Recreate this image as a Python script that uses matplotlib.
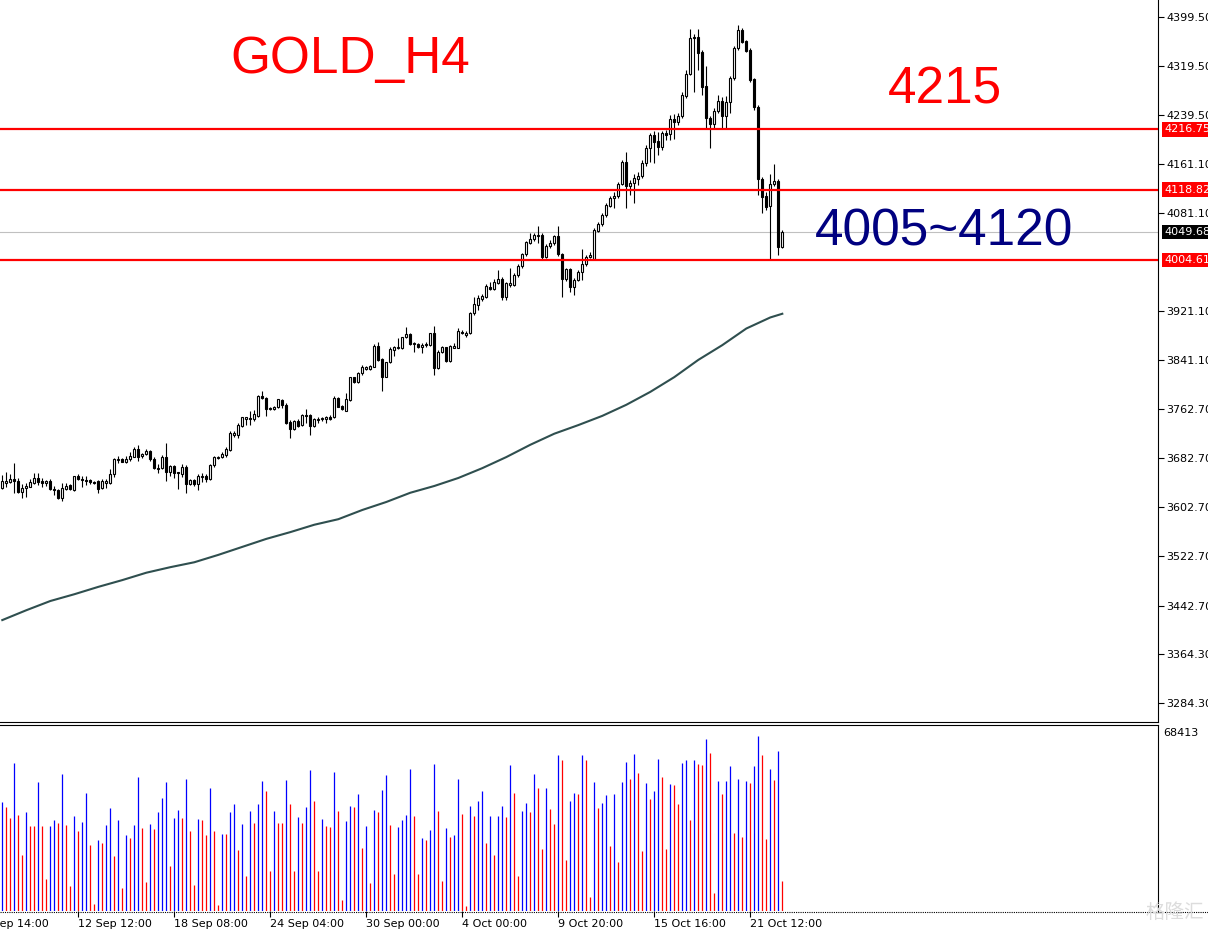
import matplotlib
matplotlib.use("Agg")
import matplotlib.pyplot as plt
import matplotlib.transforms as mtransforms
from matplotlib.patches import Rectangle
from matplotlib.lines import Line2D

# GOLD H4 candles (oldest -> newest)
opens = [
    3634.3, 3642.4, 3643.0, 3648.4, 3645.1, 3627.7, 3633.3, 3635.9, 3642.4, 3650.0,
    3645.6, 3641.4, 3645.6, 3632.6, 3631.0, 3617.0, 3632.1, 3638.1, 3630.5, 3653.8,
    3648.9, 3647.3, 3646.3, 3644.0, 3645.1, 3633.3, 3642.4, 3641.4, 3656.5, 3679.8,
    3680.4, 3675.5, 3680.4, 3684.7, 3697.2, 3685.3, 3688.6, 3694.4, 3680.9, 3666.8,
    3665.8, 3684.1, 3660.2, 3669.5, 3659.3, 3657.0, 3667.9, 3640.8, 3646.8, 3639.8,
    3652.1, 3653.3, 3647.9, 3670.6, 3682.6, 3684.1, 3687.9, 3696.3, 3719.9, 3719.9,
    3734.5, 3746.0, 3748.1, 3745.4, 3750.8, 3783.3, 3779.6, 3763.8, 3762.7, 3765.0,
    3776.8, 3768.7, 3741.6, 3729.2, 3742.7, 3736.2, 3752.4, 3752.4, 3735.0, 3744.3,
    3745.4, 3745.9, 3749.7, 3748.7, 3779.6, 3767.6, 3759.4, 3776.8, 3813.7, 3805.6,
    3820.2, 3827.7, 3827.2, 3830.9, 3864.6, 3843.5, 3814.7, 3838.1, 3858.1, 3860.9,
    3860.9, 3878.7, 3883.6, 3867.4, 3867.9, 3862.5, 3866.2, 3866.2, 3885.2, 3828.4,
    3854.4, 3862.5, 3840.7, 3861.9, 3861.9, 3887.9, 3882.5, 3886.2, 3917.8, 3931.3,
    3940.5, 3943.8, 3961.0, 3957.8, 3967.5, 3973.0, 3944.7, 3964.3, 3964.3, 3979.5,
    3994.7, 4014.2, 4032.6, 4038.6, 4043.9, 4045.6, 4009.8, 4027.2, 4031.6, 4043.4,
    4013.7, 3973.0, 3989.3, 3961.0, 3971.9, 3985.4, 3997.9, 4009.8, 4005.5, 4052.1,
    4062.4, 4077.6, 4092.7, 4104.7, 4108.5, 4127.9, 4163.3, 4125.2, 4129.1, 4136.5,
    4141.0, 4161.6, 4186.0, 4207.6, 4197.9, 4188.6, 4210.4, 4208.8, 4233.6, 4229.3,
    4239.0, 4271.5, 4306.3, 4366.5, 4366.5, 4342.1, 4287.3, 4235.8, 4225.0, 4246.7,
    4262.9, 4239.0, 4260.8, 4299.8, 4348.6, 4378.3, 4360.4, 4345.8, 4298.2, 4252.7,
    4136.1, 4108.5, 4092.7, 4127.5, 4132.8, 4026.0,
]
highs = [
    3654.9, 3659.3, 3656.0, 3673.9, 3649.5, 3639.8, 3641.4, 3648.4, 3657.6, 3658.1,
    3649.5, 3646.8, 3647.9, 3637.0, 3632.6, 3642.4, 3641.4, 3640.3, 3653.8, 3656.5,
    3653.8, 3653.8, 3648.9, 3645.1, 3646.8, 3648.4, 3648.9, 3664.6, 3683.0, 3686.3,
    3683.0, 3685.8, 3692.8, 3701.0, 3703.7, 3691.2, 3696.7, 3695.5, 3683.6, 3672.3,
    3687.4, 3707.4, 3671.1, 3670.6, 3659.8, 3672.8, 3671.1, 3648.4, 3648.4, 3656.0,
    3657.6, 3656.0, 3672.3, 3685.3, 3685.8, 3692.8, 3701.0, 3726.9, 3726.9, 3738.9,
    3749.7, 3749.7, 3758.9, 3760.6, 3785.0, 3791.4, 3781.2, 3765.9, 3767.1, 3779.0,
    3779.0, 3771.4, 3744.3, 3744.3, 3745.4, 3753.6, 3761.7, 3753.6, 3747.1, 3748.7,
    3748.7, 3750.8, 3752.4, 3783.3, 3782.2, 3768.7, 3787.7, 3814.7, 3814.7, 3822.8,
    3833.7, 3832.1, 3833.7, 3867.9, 3871.6, 3844.6, 3839.1, 3862.5, 3864.6, 3877.1,
    3879.7, 3896.0, 3885.2, 3871.6, 3870.0, 3869.0, 3871.6, 3886.2, 3897.1, 3858.1,
    3864.6, 3863.5, 3866.2, 3869.0, 3893.4, 3890.6, 3889.0, 3919.9, 3943.8, 3947.5,
    3949.1, 3965.4, 3968.6, 3973.5, 3988.2, 3976.8, 3968.6, 3990.9, 3983.3, 3997.9,
    4015.8, 4035.3, 4048.8, 4048.3, 4059.7, 4048.3, 4030.5, 4036.9, 4045.1, 4059.7,
    4016.4, 3991.4, 3991.4, 3975.1, 3988.7, 4021.8, 4012.6, 4017.4, 4056.4, 4066.2,
    4080.8, 4097.1, 4108.5, 4115.5, 4131.7, 4166.9, 4179.5, 4134.5, 4144.2, 4147.5,
    4167.0, 4191.4, 4210.9, 4214.6, 4213.0, 4214.1, 4215.7, 4240.1, 4241.3, 4243.4,
    4277.5, 4313.3, 4379.4, 4371.8, 4379.5, 4345.8, 4319.8, 4238.5, 4251.5, 4272.7,
    4269.4, 4271.0, 4303.0, 4352.3, 4386.5, 4381.6, 4362.1, 4349.1, 4300.3, 4256.4,
    4139.4, 4115.0, 4144.2, 4160.5, 4135.6, 4053.0,
]
lows = [
    3632.1, 3635.9, 3641.4, 3626.1, 3626.1, 3618.0, 3619.6, 3634.9, 3640.3, 3638.6,
    3634.9, 3637.0, 3630.5, 3621.9, 3615.4, 3612.6, 3630.5, 3630.5, 3629.4, 3646.8,
    3635.9, 3638.6, 3640.3, 3640.8, 3626.1, 3631.6, 3633.3, 3640.3, 3652.1, 3673.9,
    3675.5, 3673.9, 3678.1, 3683.6, 3677.6, 3683.0, 3687.4, 3677.6, 3664.1, 3658.6,
    3664.1, 3645.6, 3653.3, 3649.5, 3632.6, 3652.1, 3626.1, 3639.1, 3637.5, 3630.5,
    3644.0, 3643.0, 3646.8, 3667.9, 3680.9, 3682.0, 3684.7, 3694.6, 3717.1, 3715.5,
    3733.4, 3736.2, 3736.2, 3742.7, 3749.7, 3778.0, 3750.8, 3760.6, 3760.6, 3763.3,
    3763.3, 3737.8, 3715.5, 3728.1, 3732.5, 3734.5, 3738.9, 3719.9, 3733.4, 3738.9,
    3742.7, 3738.9, 3744.3, 3747.1, 3765.0, 3760.6, 3758.4, 3775.7, 3804.0, 3804.0,
    3817.4, 3825.6, 3825.6, 3830.0, 3840.7, 3791.9, 3813.7, 3836.5, 3848.8, 3859.2,
    3859.2, 3877.1, 3866.2, 3855.3, 3860.9, 3852.8, 3863.4, 3864.6, 3817.4, 3826.7,
    3852.8, 3839.1, 3839.1, 3860.9, 3860.9, 3884.1, 3879.2, 3884.1, 3915.0, 3923.1,
    3937.8, 3942.6, 3955.7, 3955.7, 3965.4, 3939.4, 3939.4, 3961.0, 3962.1, 3976.8,
    3991.4, 4010.9, 4031.0, 4035.3, 4031.6, 4006.0, 4007.6, 4023.9, 4028.8, 4010.9,
    3943.8, 3970.3, 3952.4, 3947.5, 3970.3, 3971.9, 3994.7, 4007.7, 4004.4, 4049.9,
    4059.7, 4074.3, 4090.6, 4088.5, 4104.7, 4126.3, 4089.4, 4110.1, 4096.6, 4126.3,
    4137.7, 4157.2, 4163.8, 4162.6, 4175.1, 4183.2, 4199.5, 4199.5, 4201.1, 4223.9,
    4235.3, 4267.8, 4304.5, 4278.0, 4313.3, 4272.7, 4218.5, 4186.0, 4219.0, 4243.4,
    4219.0, 4219.0, 4243.9, 4297.0, 4345.8, 4357.0, 4342.6, 4293.8, 4248.3, 4110.1,
    4081.3, 4085.7, 4004.4, 4124.8, 4012.6, 4024.0,
]
closes = [
    3645.1, 3645.1, 3648.4, 3645.1, 3627.7, 3634.3, 3637.5, 3643.0, 3650.0, 3643.5,
    3641.4, 3644.6, 3631.6, 3630.0, 3617.0, 3633.3, 3637.0, 3632.6, 3652.8, 3648.4,
    3646.3, 3644.6, 3643.5, 3641.9, 3632.6, 3645.6, 3644.6, 3656.5, 3680.9, 3681.5,
    3676.2, 3680.9, 3685.8, 3697.2, 3684.7, 3689.5, 3693.9, 3680.4, 3665.8, 3665.2,
    3684.1, 3660.2, 3669.5, 3657.6, 3657.6, 3667.4, 3640.8, 3646.8, 3639.8, 3653.3,
    3653.8, 3647.9, 3670.6, 3684.1, 3684.7, 3689.0, 3697.2, 3723.2, 3723.7, 3736.2,
    3748.7, 3748.7, 3745.4, 3753.6, 3783.3, 3779.6, 3762.2, 3762.2, 3765.0, 3778.0,
    3768.7, 3738.9, 3729.2, 3742.7, 3734.5, 3752.4, 3750.8, 3735.0, 3745.9, 3745.9,
    3747.1, 3748.7, 3746.5, 3780.6, 3765.9, 3761.7, 3779.0, 3813.7, 3805.6, 3820.2,
    3830.0, 3830.0, 3832.1, 3864.6, 3841.8, 3814.7, 3838.1, 3859.2, 3862.5, 3862.5,
    3878.7, 3883.6, 3867.4, 3869.0, 3862.5, 3866.2, 3867.9, 3885.2, 3828.4, 3854.4,
    3862.5, 3840.7, 3864.6, 3864.6, 3889.5, 3885.2, 3886.2, 3917.8, 3932.4, 3942.1,
    3945.9, 3962.1, 3957.8, 3969.1, 3973.0, 3944.7, 3966.5, 3966.5, 3979.5, 3994.7,
    4014.2, 4033.2, 4038.1, 4045.1, 4045.6, 4009.8, 4027.2, 4032.6, 4043.4, 4013.7,
    3973.0, 3989.3, 3961.0, 3971.9, 3985.4, 3997.9, 4009.8, 4013.1, 4053.2, 4062.9,
    4077.6, 4093.8, 4104.7, 4108.5, 4127.9, 4163.3, 4125.2, 4129.1, 4137.2, 4141.0,
    4161.6, 4187.0, 4207.6, 4196.7, 4188.6, 4210.4, 4207.6, 4233.6, 4229.3, 4239.0,
    4272.7, 4306.3, 4364.8, 4364.8, 4340.5, 4286.2, 4235.8, 4225.0, 4246.7, 4262.9,
    4239.0, 4260.8, 4299.8, 4348.6, 4378.3, 4359.3, 4344.7, 4297.0, 4252.7, 4136.1,
    4107.3, 4091.1, 4127.9, 4132.8, 4026.0, 4049.68,
]
volumes = [
    42380, 40440, 36160, 57540, 37330, 21770, 38490, 33050, 33050, 50160,
    33050, 12440, 33050, 35380, 34210, 53270, 33440, 9720, 36940, 31100,
    34600, 45880, 25660, 2720, 27610, 26440, 33440, 40050, 21380, 35380,
    8940, 29550, 28380, 33440, 52100, 32270, 11280, 33830, 31880, 38490,
    43930, 50160, 17500, 36160, 39270, 36160, 51320, 31100, 10110, 35770,
    35380, 29550, 47820, 31100, 2330, 29940, 29940, 38490, 41600, 23720,
    33830, 13610, 38880, 34210, 41600, 50540, 46660, 15550, 38880, 34210,
    34210, 50930, 41600, 15550, 36550, 34210, 40440, 54820, 42770, 15550,
    35770, 33050, 32660, 54040, 38880, 4280, 34990, 40820, 40440, 45490,
    24490, 33050, 10890, 39270, 38490, 47050, 52880, 33440, 14390, 32660,
    35380, 37330, 55210, 36940, 14390, 28380, 27610, 31490, 57150, 38880,
    11660, 32270, 28770, 29550, 51320, 37710, 1940, 40820, 36940, 42770,
    46660, 26440, 36940, 21770, 36940, 40820, 36550, 56770, 45880, 13610,
    38880, 41990, 38490, 53270, 47820, 24110, 47820, 39660, 33830, 60650,
    58710, 19830, 42770, 45880, 45490, 60650, 58710, 5440, 50160, 40050,
    41990, 45100, 25270, 45490, 19050, 50160, 57930, 51320, 61040, 53650,
    23330, 49770, 43550, 46660, 59100, 52100, 24240, 49380, 48990, 41600,
    57540, 58710, 35380, 58710, 57150, 56770, 66870, 61430, 7000, 50540,
    45490, 50540, 56380, 30330, 51320, 28770, 50540, 49770, 56380, 68040,
    60650, 27990, 55210, 50930, 62210, 11660,
]

# moving average, read every 6 bars
ma_bars = [0, 6, 12, 18, 24, 30, 36, 42, 48, 54, 60, 66, 72, 78, 84, 90, 96,
           102, 108, 114, 120, 126, 132, 138, 144, 150, 156, 162, 168, 174,
           180, 186, 192, 195]
ma_values = [3419, 3435, 3450, 3461, 3473, 3484, 3496, 3505, 3513, 3525, 3538,
             3551, 3562, 3574, 3583, 3598, 3611, 3626, 3637, 3650, 3666, 3684,
             3704, 3722, 3736, 3751, 3769, 3790, 3814, 3842, 3866, 3893, 3911,
             3917]

price_ticks = [4399.50, 4319.50, 4239.50, 4161.10, 4081.10, 3921.10, 3841.10,
               3762.70, 3682.70, 3602.70, 3522.70, 3442.70, 3364.30, 3284.30]
levels = [4216.75, 4118.82, 4004.61]
bid = 4049.68
time_ticks = [19, 43, 67, 91, 115, 139, 163, 187]
time_labels = ["12 Sep 12:00", "18 Sep 08:00", "24 Sep 04:00", "30 Sep 00:00",
               "4 Oct 00:00", "9 Oct 20:00", "15 Oct 16:00", "21 Oct 12:00"]
first_label = (-5, "6 Sep 14:00")

W, H = 1208, 931
fig = plt.figure(figsize=(W / 100, H / 100), dpi=100)
fig.patch.set_facecolor("white")


def px_axes(x0, y0, x1, y1):
    return fig.add_axes([x0 / W, 1 - y1 / H, (x1 - x0) / W, (y1 - y0) / H])


ax = px_axes(0, 0, 1158, 722)
vax = px_axes(0, 725, 1158, 911)
xlim = (-0.575, 288.925)

# price pane
ax.set_xlim(*xlim)
ax.set_ylim(3253.3, 4427.1)
for i, (o, h, l, c) in enumerate(zip(opens, highs, lows, closes)):
    ax.vlines(i, l, h, color="black", lw=0.8, zorder=2)
    lo, hi = min(o, c), max(o, c)
    if hi - lo < 1.2:
        hi = lo + 1.2
    ax.add_patch(Rectangle((i - 0.25, lo), 0.5, hi - lo,
                           facecolor="white" if c >= o else "black",
                           edgecolor="black", lw=0.8, zorder=3))

ax.plot(ma_bars, ma_values, color="#2f4f4f", lw=1.5, zorder=2)
ax.axhline(bid, color="#c0c0c0", lw=0.8, zorder=1)
for lv in levels:
    ax.axhline(lv, color="red", lw=1.6, zorder=5)

for s in ("top", "left"):
    ax.spines[s].set_visible(False)
ax.spines["right"].set_linewidth(0.8)
ax.spines["bottom"].set_linewidth(0.8)
ax.set_xticks([])
ax.yaxis.tick_right()
ax.set_yticks(price_ticks)
ax.set_yticklabels([f"{v:.2f}" for v in price_ticks])
ax.tick_params(axis="y", direction="out", length=4, width=0.8, labelsize=8, pad=2)

trans = mtransforms.blended_transform_factory(fig.transFigure, ax.transData)
for val, fc in [(4216.75, "red"), (4118.82, "red"), (bid, "black"), (4004.61, "red")]:
    ax.text(1164 / W, val, f"{val:.2f}", transform=trans, color="white", fontsize=8,
            va="center", ha="left", clip_on=False, zorder=10,
            bbox=dict(boxstyle="square,pad=0.2", fc=fc, ec="none"))

# volume pane
vol_colors = ["blue"] + ["blue" if volumes[k] > volumes[k - 1] else "red"
                         for k in range(1, len(volumes))]
vax.vlines(range(len(volumes)), 0, volumes, colors=vol_colors, lw=0.9)
vax.set_xlim(*xlim)
vax.set_ylim(0, 72317)
vax.spines["left"].set_visible(False)
vax.spines["bottom"].set_visible(False)
vax.spines["top"].set_linewidth(0.8)
vax.spines["right"].set_linewidth(0.8)
vax.set_yticks([])
vax.set_xticks(time_ticks)
vax.set_xticklabels(time_labels, ha="left")
vax.tick_params(axis="x", direction="out", length=4, width=0.8, labelsize=8, pad=2)
xtrans = mtransforms.blended_transform_factory(vax.transData, vax.transAxes)
vax.annotate(first_label[1], xy=(first_label[0], 0), xycoords=xtrans,
             xytext=(0, -6), textcoords="offset points", fontsize=8,
             ha="left", va="top", annotation_clip=False)
fig.add_artist(Line2D([0, 1], [1 - 912 / H, 1 - 912 / H], color="black", lw=0.8,
                      linestyle=(0, (1, 1)), transform=fig.transFigure))
fig.text(1163 / W, 1 - 733 / H, "68413", fontsize=8, va="center", ha="left")

# annotations
big = dict(fontsize=37, family="Liberation Sans", ha="left", va="baseline")
fig.text(230 / W, 1 - 73 / H, "GOLD_H4", color="red", **big)
fig.text(888 / W, 1 - 103 / H, "4215", color="red", **big)
fig.text(815 / W, 1 - 246 / H, "4005~4120", color="#000080", **big)

fig.text(1175 / W, 1 - 912 / H, "格隆汇", color="#dcdcdc", fontsize=14,
         family=["Noto Sans CJK SC", "DejaVu Sans"], ha="center", va="center")

fig.savefig("out.png", dpi=100)
